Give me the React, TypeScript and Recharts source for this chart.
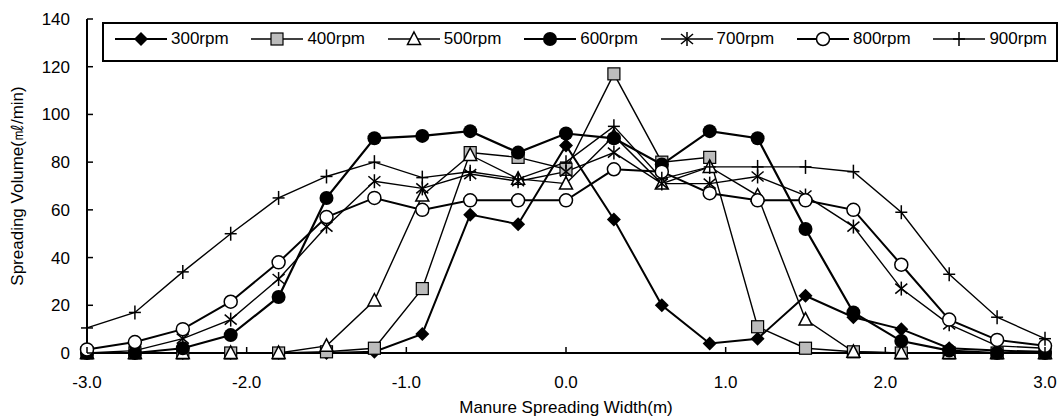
import React from 'react';
import { LineChart, Line, XAxis, YAxis, Legend } from 'recharts';

const positions = [-3.0, -2.7, -2.4, -2.1, -1.8, -1.5, -1.2, -0.9, -0.6, -0.3, 0.0, 0.3, 0.6, 0.9, 1.2, 1.5, 1.8, 2.1, 2.4, 2.7, 3.0];
const rpm300 = [0, 0, 0, 0, 0, 0, 0.5, 8, 58, 54, 87, 56, 20, 4, 6, 24, 15, 10, 2, 1, 0.5];
const rpm400 = [0, 0, 0, 0, 0, 0.5, 2, 27, 84, 82, 77, 117, 80, 82, 11, 2, 0.5, 0, 0, 0, 0];
const rpm500 = [0, 0, 0, 0, 0, 3, 22, 66, 83, 73, 71, 91, 71, 78, 66, 14, 0.5, 0, 0, 0, 0];
const rpm600 = [0, 0, 2, 7.5, 23.5, 65, 90, 91, 93, 84, 92, 90, 79, 93, 90, 52, 17, 5, 1, 0, 0];
const rpm700 = [0, 1, 6, 14, 31, 53, 72, 69, 75, 72, 76, 84, 71, 71, 74, 66, 53, 27, 12, 3, 2];
const rpm800 = [1.5, 4.6, 10, 21.5, 38, 57, 65, 60, 64, 64, 64, 77, 76, 67, 64, 64, 60, 37, 14, 5.5, 3];
const rpm900 = [10.5, 17, 34, 50, 65, 74, 80, 73.5, 76, 73, 80, 95, 73, 78, 78, 78, 76, 59, 33, 15, 6];

const seriesNames = ['300rpm', '400rpm', '500rpm', '600rpm', '700rpm', '800rpm', '900rpm'];
const seriesKeys = ['r300', 'r400', 'r500', 'r600', 'r700', 'r800', 'r900'];
const seriesValues = [rpm300, rpm400, rpm500, rpm600, rpm700, rpm800, rpm900];
const seriesShapes = ['diamond', 'square', 'triangle', 'dot', 'asterisk', 'circle', 'plus'];
const seriesWidths = [2, 1.4, 1.4, 2.2, 1.4, 2, 1.4];

const xTicks = [-3, -2, -1, 0, 1, 2, 3];
const yTicks = [0, 20, 40, 60, 80, 100, 120, 140];

const data = positions.map((x, i) => {
  const row: Record<string, number> = { x };
  seriesKeys.forEach((k, s) => {
    row[k] = seriesValues[s][i];
  });
  return row;
});

const FONT = '"Liberation Sans", Arial, Helvetica, sans-serif';

function Marker({ shape, cx, cy }: { shape: string; cx: number; cy: number }) {
  switch (shape) {
    case 'diamond':
      return <path d={`M${cx},${cy - 7}L${cx + 7},${cy}L${cx},${cy + 7}L${cx - 7},${cy}Z`} fill="#000" />;
    case 'square':
      return <rect x={cx - 6} y={cy - 6} width={12} height={12} fill="#bcbcbc" stroke="#000" strokeWidth={1.2} />;
    case 'triangle':
      return (
        <path
          d={`M${cx},${cy - 7}L${cx + 6.5},${cy + 5.5}L${cx - 6.5},${cy + 5.5}Z`}
          fill="#fff"
          stroke="#000"
          strokeWidth={1.5}
        />
      );
    case 'dot':
      return <circle cx={cx} cy={cy} r={7} fill="#000" />;
    case 'asterisk':
      return (
        <g stroke="#000" strokeWidth={1.5}>
          <line x1={cx} y1={cy - 7} x2={cx} y2={cy + 7} />
          <line x1={cx - 6} y1={cy - 5} x2={cx + 6} y2={cy + 5} />
          <line x1={cx - 6} y1={cy + 5} x2={cx + 6} y2={cy - 5} />
        </g>
      );
    case 'circle':
      return <circle cx={cx} cy={cy} r={6.5} fill="#fff" stroke="#000" strokeWidth={1.5} />;
    case 'plus':
      return (
        <g stroke="#000" strokeWidth={1.5}>
          <line x1={cx} y1={cy - 7} x2={cx} y2={cy + 7} />
          <line x1={cx - 6} y1={cy} x2={cx + 6} y2={cy} />
        </g>
      );
    default:
      return null;
  }
}

const renderXTick = (props: any) => {
  const { x, y, payload } = props;
  return (
    <g>
      <line x1={x} y1={y} x2={x} y2={y - 6} stroke="#000" strokeWidth={1.5} />
      <text x={x} y={y + 35} textAnchor="middle" fontSize={17} fontFamily={FONT} fill="#000">
        {Number(payload.value).toFixed(1)}
      </text>
    </g>
  );
};

const renderYTick = (props: any) => {
  const { x, y, payload } = props;
  return (
    <g>
      <line x1={x} y1={y} x2={x + 6} y2={y} stroke="#000" strokeWidth={1.5} />
      <text x={x - 17} y={y + 6} textAnchor="end" fontSize={17} fontFamily={FONT} fill="#000">
        {payload.value}
      </text>
    </g>
  );
};

const renderLegend = () => (
  <div
    style={{
      position: 'relative',
      boxSizing: 'border-box',
      width: 956,
      height: 40,
      border: '2px solid #000',
      background: '#fff',
      fontFamily: FONT,
    }}
  >
    {seriesNames.map((name, i) => (
      <div
        key={name}
        style={{
          position: 'absolute',
          left: 11 + i * 136.4,
          top: 5,
          height: 20,
          display: 'flex',
          alignItems: 'center',
          whiteSpace: 'nowrap',
        }}
      >
        <svg width={52} height={20} style={{ display: 'block' }}>
          <line x1={0} y1={10} x2={52} y2={10} stroke="#000" strokeWidth={seriesWidths[i]} />
          <Marker shape={seriesShapes[i]} cx={26} cy={10} />
        </svg>
        <span style={{ marginLeft: 4, fontSize: 17, color: '#000', lineHeight: '20px' }}>{name}</span>
      </div>
    ))}
  </div>
);

export default function App() {
  return (
    <div style={{ position: 'fixed', left: 0, top: 0, width: 1063, height: 417, background: '#fff' }}>
      <LineChart width={1063} height={417} data={data} margin={{ top: 19, right: 18, left: 0, bottom: 0 }}>
        <XAxis
          dataKey="x"
          type="number"
          domain={[-3, 3]}
          ticks={xTicks}
          interval={0}
          height={64}
          tickSize={0}
          tickMargin={0}
          tickLine={false}
          tick={renderXTick}
          axisLine={{ stroke: '#000', strokeWidth: 2 }}
          label={{
            content: (p: any) => {
              const vb = p.viewBox;
              return (
                <text x={vb.x + vb.width / 2} y={vb.y + 60} textAnchor="middle" fontSize={17} fontFamily={FONT} fill="#000">
                  Manure Spreading Width(m)
                </text>
              );
            },
          }}
        />
        <YAxis
          type="number"
          domain={[0, 140]}
          ticks={yTicks}
          interval={0}
          width={87}
          tickSize={0}
          tickMargin={0}
          tickLine={false}
          tick={renderYTick}
          axisLine={{ stroke: '#000', strokeWidth: 2 }}
          label={{
            content: (p: any) => {
              const vb = p.viewBox;
              const cx = vb.x + 17;
              const cy = vb.y + vb.height / 2;
              return (
                <text
                  x={cx}
                  y={cy}
                  transform={`rotate(-90, ${cx}, ${cy})`}
                  textAnchor="middle"
                  dominantBaseline="central"
                  fontSize={17}
                  fontFamily={FONT}
                  fill="#000"
                >
                  Spreading Volume(㎖/min)
                </text>
              );
            },
          }}
        />
        <Legend
          layout="horizontal"
          verticalAlign="middle"
          align="center"
          wrapperStyle={{ top: 22, left: 102, width: 956, height: 40, margin: 0, padding: 0 }}
          content={renderLegend}
        />
        {seriesKeys.map((k, s) => (
          <Line
            key={k}
            dataKey={k}
            name={seriesNames[s]}
            type="linear"
            stroke="#000"
            strokeWidth={seriesWidths[s]}
            isAnimationActive={false}
            dot={(p: any) => <Marker key={`${k}-${p.index}`} shape={seriesShapes[s]} cx={p.cx} cy={p.cy} />}
            activeDot={false}
          />
        ))}
      </LineChart>
    </div>
  );
}
